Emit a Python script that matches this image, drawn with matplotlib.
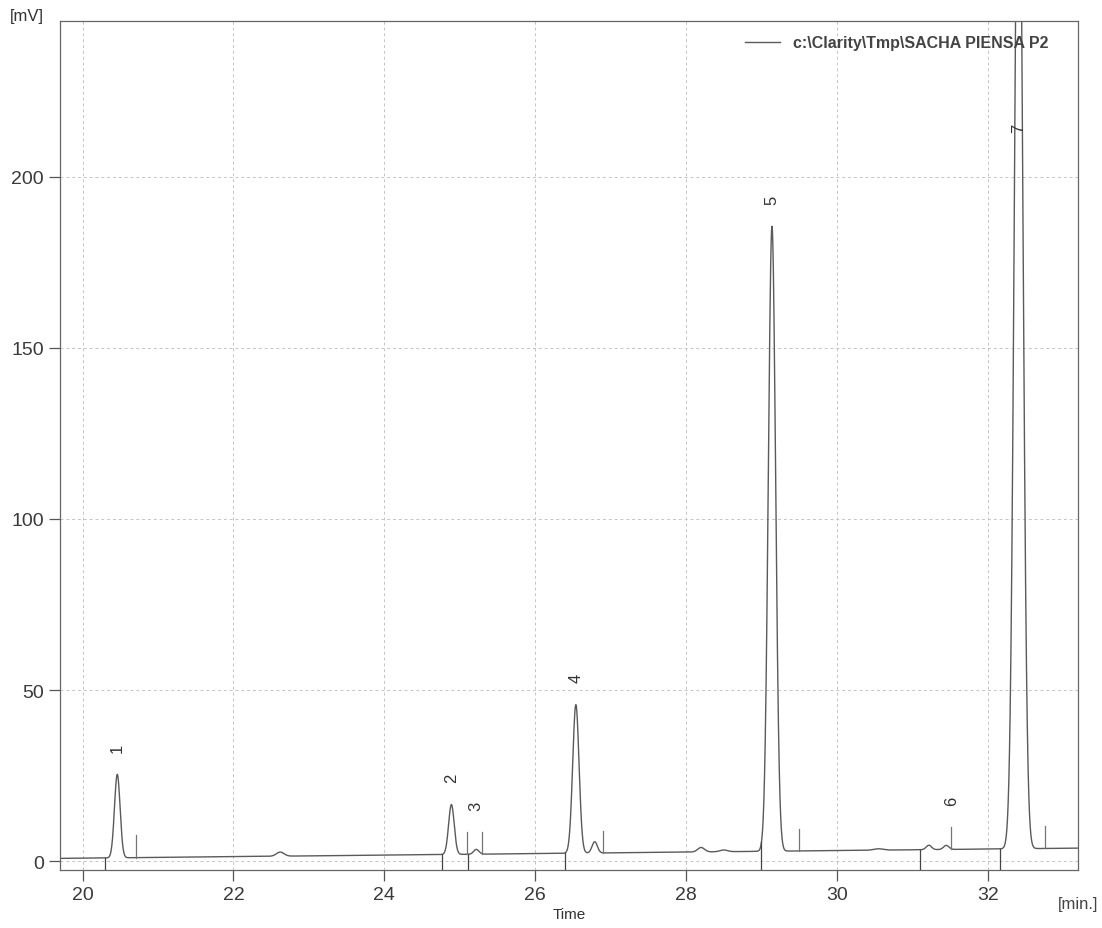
import matplotlib.pyplot as plt
import numpy as np

plt.rcParams["font.family"] = ["Liberation Sans", "DejaVu Sans"]

# peak table (retention time [min], height above baseline [mV], sigma [min])
peak_time = [20.46, 22.62, 24.89, 25.22, 26.54, 26.79, 28.20, 28.50, 29.14, 30.55, 31.22, 31.45, 32.41]
peak_height = [24.4, 1.2, 14.6, 1.4, 43.4, 3.3, 1.3, 0.5, 182.6, 0.4, 1.3, 1.2, 320.0]
peak_sigma = [0.037, 0.05, 0.037, 0.035, 0.042, 0.035, 0.045, 0.05, 0.048, 0.06, 0.035, 0.035, 0.055]

# baseline drift (endpoints)
base_time = [19.7, 33.2]
base_level = [0.8, 3.8]

# labelled peaks and integration marks
label_names = ["1", "2", "3", "4", "5", "6", "7"]
label_time = [20.46, 24.89, 25.22, 26.54, 29.14, 31.52, 32.41]
start_marks = [20.30, 24.77, 25.11, 26.40, 29.00, 31.10, 32.16]
end_marks = [20.71, 25.10, 25.30, 26.90, 29.50, 31.51, 32.76]

t = np.linspace(19.7, 33.2, 6000)


def signal(x):
    x = np.asarray(x, dtype=float)
    y = np.interp(x, base_time, base_level)
    for t0, h, s in zip(peak_time, peak_height, peak_sigma):
        y = y + h * np.exp(-0.5 * ((x - t0) / s) ** 2)
    return y


fig = plt.figure(figsize=(11.02, 9.29), dpi=100)
ax = fig.add_axes([0.0544, 0.0624, 0.924, 0.914])

trace_col = "#5a5a5a"
ax.plot(t, signal(t), color=trace_col, lw=1.0, label=r"c:\Clarity\Tmp\SACHA PIENSA P2")

xmin, xmax = 19.7, 33.2
ymin, ymax = -2.6, 245.5

# integration marks
for tm in start_marks:
    ax.plot([tm, tm], [ymin, signal(tm)], color="#444444", lw=0.9)
for tm in end_marks:
    b = np.interp(tm, base_time, base_level)
    ax.plot([tm, tm], [b, b + 6.5], color="#777777", lw=0.9)

# peak labels
for name, tm in zip(label_names, label_time):
    top = max(signal(tm), np.interp(tm, base_time, base_level) + 6.5)
    ly = min(top + 6.5, 213)
    ax.text(tm, ly, name, rotation=90, ha="center", va="bottom",
            fontsize=12, color="#333333")

ax.set_xlim(xmin, xmax)
ax.set_ylim(ymin, ymax)
ax.set_xticks([20, 22, 24, 26, 28, 30, 32])
ax.set_yticks([0, 50, 100, 150, 200])
ax.tick_params(direction="out", length=8, width=0.9, colors="#555555",
               labelsize=14, labelcolor="#3a3a3a")
ax.grid(True, ls=(0, (3, 3)), color="#c4c4c4", lw=0.7)
for sp in ax.spines.values():
    sp.set_color("#666666")
    sp.set_linewidth(0.9)

ax.set_xlabel("Time", fontsize=11, color="#333333", labelpad=3)
fig.text(0.009, 0.99, "[mV]", fontsize=12, color="#333333", va="top")
fig.text(0.997, 0.022, "[min.]", fontsize=12, color="#444444", ha="right")

leg = ax.legend(loc="upper right", frameon=False, handlelength=2.2,
                prop={"weight": "bold", "size": 11.5}, bbox_to_anchor=(0.985, 1.0))
for txt in leg.get_texts():
    txt.set_color("#444444")

fig.savefig("out.png", dpi=100)
